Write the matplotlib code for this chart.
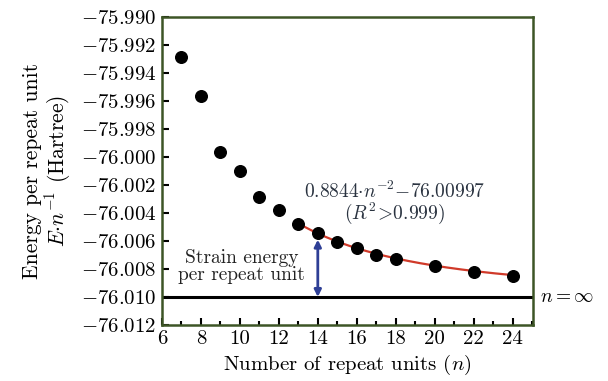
import numpy as np
import matplotlib
matplotlib.use("Agg")
import matplotlib.pyplot as plt
from matplotlib.ticker import MultipleLocator

# Data -------------------------------------------------------------------

n_units = [7, 8, 9, 10, 11, 12, 13, 14, 15, 16, 17, 18, 20, 22, 24]
energy = [-75.99284, -75.99566, -75.99962, -76.00100, -76.00283, -76.00379,
          -76.00481, -76.00545, -76.00609, -76.00652, -76.00698, -76.00726,
          -76.00779, -76.00819, -76.00848]

fit_a = 0.8844
fit_b = -76.00997
fit_range = (13, 24)
e_inf = -76.010

y_ticks = [-75.990, -75.992, -75.994, -75.996, -75.998, -76.000,
           -76.002, -76.004, -76.006, -76.008, -76.010, -76.012]
x_ticks = [6, 8, 10, 12, 14, 16, 18, 20, 22, 24]

#-------------------------------------------------------------------------

plt.rcParams['font.family'] = 'serif'
plt.rcParams['font.serif'] = ['cmr10']
plt.rcParams['mathtext.fontset'] = 'cm'
plt.rcParams['axes.formatter.use_mathtext'] = True

fig = plt.figure(figsize=(6.08, 3.81), dpi=100)
ax = fig.add_axes([162/608, 1-325/381, (533-162)/608, (325-17)/381])

spine_col = '#3d5526'
for s in ax.spines.values():
    s.set_color(spine_col)
    s.set_linewidth(1.8)

# limit line
ax.axhline(e_inf, color='black', lw=2.2, zorder=2)

# fit curve
nn = np.linspace(fit_range[0], fit_range[1], 200)
ax.plot(nn, fit_a * nn**-2 + fit_b, color='#d03a2a', lw=1.6, zorder=3)

# data points
ax.scatter(n_units, energy, s=70, color='black', zorder=4)

# strain energy arrow
ax.annotate('', xy=(14, e_inf), xytext=(14, -76.0059),
            arrowprops=dict(arrowstyle='<|-|>', color='#2e3f96', lw=2,
                            mutation_scale=10, shrinkA=0, shrinkB=0),
            zorder=5)

ax.text(10.1, -76.0078, 'Strain energy\nper repeat unit', ha='center',
        va='center', fontsize=14, color='#222222', linespacing=0.95)
ax.text(17.95, -76.00243, r'$0.8844{\cdot}n^{-2}{-}76.00997$', ha='center',
        va='center', fontsize=14, color='#2a3340')
ax.text(17.95, -76.0040, r'$(R^2\!>\!0.999)$', ha='center',
        va='center', fontsize=14, color='#2a3340')
ax.text(25.4, e_inf, r'$n = \infty$', ha='left', va='center',
        fontsize=14, clip_on=False)

ax.set_xlim(6, 25.05)
ax.set_ylim(-76.012, -75.990)
ax.set_xticks(x_ticks)
ax.set_xticklabels([str(v) for v in x_ticks])
ax.xaxis.set_minor_locator(MultipleLocator(1))
ax.set_yticks(y_ticks)
ax.set_yticklabels([r'$%.3f$' % v for v in y_ticks])

ax.tick_params(axis='both', which='both', direction='in', labelsize=15,
               color='black', top=False, right=False)
ax.tick_params(axis='both', which='major', length=5, width=1.5, pad=4)
ax.tick_params(axis='x', which='minor', length=3, width=1.5)

ax.set_xlabel(r'Number of repeat units ($n$)', fontsize=15, labelpad=3)
ax.set_ylabel('Energy per repeat unit\n' + r'$E{\cdot}n^{-1}$ (Hartree)',
              fontsize=15.5, labelpad=6, linespacing=1.05)

fig.savefig('out.png', dpi=100)
